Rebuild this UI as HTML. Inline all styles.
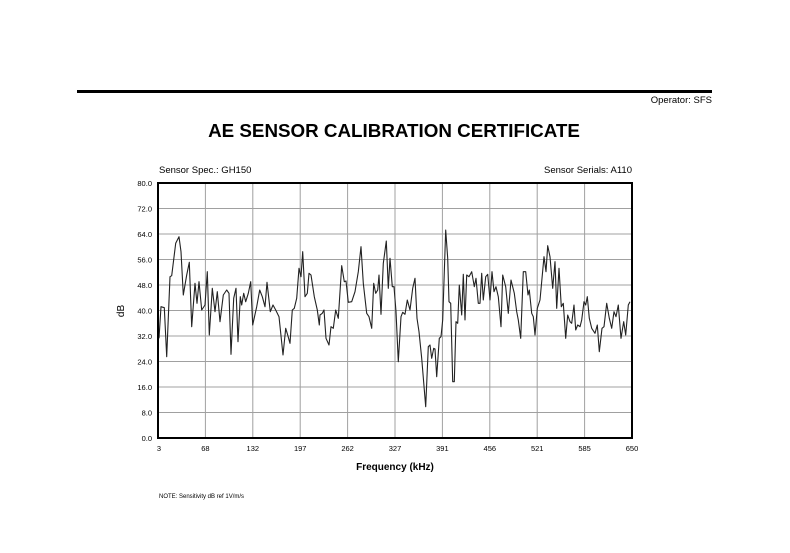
<!DOCTYPE html>
<html><head><meta charset="utf-8"><style>
html,body{margin:0;padding:0;background:#fff;}
body{width:790px;height:548px;overflow:hidden;font-family:"Liberation Sans",Arial,sans-serif;}
</style></head><body>
<svg width="790" height="548" viewBox="0 0 790 548" xmlns="http://www.w3.org/2000/svg" font-family="Liberation Sans, Arial, sans-serif">
<rect x="0" y="0" width="790" height="548" fill="#fff"/>
<rect x="77" y="90" width="635" height="3" fill="#000"/>
<text x="712" y="103" font-size="9.5" text-anchor="end" fill="#000">Operator: SFS</text>
<text x="394" y="137" font-size="18.8" font-weight="bold" text-anchor="middle" fill="#000">AE SENSOR CALIBRATION CERTIFICATE</text>
<text x="159" y="173" font-size="9.5" fill="#000">Sensor Spec.: GH150</text>
<text x="632" y="173" font-size="9.5" text-anchor="end" fill="#000">Sensor Serials: A110</text>
<g stroke="#a0a0a0" stroke-width="1">
<line x1="205.4" y1="183" x2="205.4" y2="438"/>
<line x1="252.8" y1="183" x2="252.8" y2="438"/>
<line x1="300.2" y1="183" x2="300.2" y2="438"/>
<line x1="347.6" y1="183" x2="347.6" y2="438"/>
<line x1="395" y1="183" x2="395" y2="438"/>
<line x1="442.4" y1="183" x2="442.4" y2="438"/>
<line x1="489.8" y1="183" x2="489.8" y2="438"/>
<line x1="537.2" y1="183" x2="537.2" y2="438"/>
<line x1="584.6" y1="183" x2="584.6" y2="438"/>
<line x1="158" y1="208.5" x2="632" y2="208.5"/>
<line x1="158" y1="234" x2="632" y2="234"/>
<line x1="158" y1="259.5" x2="632" y2="259.5"/>
<line x1="158" y1="285" x2="632" y2="285"/>
<line x1="158" y1="310.5" x2="632" y2="310.5"/>
<line x1="158" y1="336" x2="632" y2="336"/>
<line x1="158" y1="361.5" x2="632" y2="361.5"/>
<line x1="158" y1="387" x2="632" y2="387"/>
<line x1="158" y1="412.5" x2="632" y2="412.5"/>
</g>
<polyline fill="none" stroke="#222" stroke-width="1.1" stroke-linejoin="round" points="
159,338.3 161,306.7 164.3,307.7 166.7,356.7 170,276.7 171.7,275.7 175.7,243.3 179,236.7 181,251.7 183.3,295 186.7,275 189.3,262.3 191.7,326.7 195,283.3 197,303.3 199,281.7 201.7,310 205,305 207.3,271.7 209.3,335 212.3,288.3 215,311.7 217.3,291.7 220,321.7 223.3,295 226.7,290 229,293.3 231,354.3 233.7,298.3 236,288.3 238,341.7 240.3,296.7 241.7,305 243.7,293.3 245.7,301.7 248.3,293.3 250.7,281.7 252.7,325 256.7,306.7 259.7,290 262.3,296.7 265,306.7 267,282.3 270.3,311.7 273,305 275.7,310 279,316.7 283,355 285.7,328.3 287.7,335 290,343.3 292.3,310 294.3,308.3 296.7,298.3 299,268.3 301,276.7 302.7,251.7 305,296.7 307.3,293.3 309,273.3 311,275 314.3,296.7 317.3,310 319.3,325
320,315 322.3,313.3 324,310 326,338.3 329,345 331,326.7 333.3,328.3 335.7,310 338.3,318.3 341.7,265.7 344.3,281.7 346,281 348.3,302.3 351.7,301.7 355,291.7 358.3,271.7 361,246.7 363.3,283.3 366.7,313.3 369,316.7 371.7,328.3 373.7,283.3 375.7,293.3 377.7,290 379,275 381,314.3 383.3,263.3 386.3,241 388.3,288.3 390,258.3 392.3,286.7 394,286.7 396,311.7 398.3,361.7 401,316.7 402.7,312.3 405,314.3 407.3,300 410,310 412.7,288.3 415,278.3 417,318.3 419,331.7 421.7,358.3 425.7,406.7 428.3,346.7 430,345 431.7,358.3 433.7,348.3 435,349 436.7,376.7 439.3,338.3 441,336.7 442.7,320 445.7,230 447.7,258.3 449,301.7 450.7,303.3 452.7,381.7 454.3,381.7 456,321.7 457.7,323.3 459.3,285 461.7,315 463.3,274.3 465,320 466.7,275 469,276.7 471.7,271.7 474.3,286.7
476,278.3 478.3,303.3 480,303.3 481.7,273.3 483.3,300 485.7,276.7 487.7,274.3 490,300 492,271.7 494,291.7 496,286.7 498.3,296.7 501,326.7 502.7,275 505.7,286.7 508.3,313.3 511,280 514.3,293.3 516.7,311.7 518.3,320 520.7,338.3 523.3,271.7 525.7,271.7 528,295 529.3,290 531.7,313.3 533.3,316.7 535,335 537.3,308.3 540,300 544,256.7 546,271.7 547.7,245.7 550,256.7 552.7,288.3 555,261.7 556.7,308.3 559,268.3 561.3,306.7 563.3,303.3 565.7,338.3 567.7,315 570,321.7 571.7,323.3 574,305 575.7,330 577.7,325 580,326.7 581.7,320 584,301.7 585.7,305 587.3,296.7 589.3,318.3 591.7,328.3 595,333.3 597.3,325 599.3,351.7 602,328.3 604,326.7 606.7,303.3 609.3,318.3 611.7,328.3 614,311.7 616,316.7 618.3,305 621,338.3 623.7,321.7 625.7,335 628.3,305 630,301.7"/>
<rect x="158" y="183" width="474" height="255" fill="none" stroke="#000" stroke-width="2"/>
<g font-size="7.5" text-anchor="end" fill="#000">
<text x="152" y="186">80.0</text>
<text x="152" y="211.5">72.0</text>
<text x="152" y="237">64.0</text>
<text x="152" y="262.5">56.0</text>
<text x="152" y="288">48.0</text>
<text x="152" y="313.5">40.0</text>
<text x="152" y="339">32.0</text>
<text x="152" y="364.5">24.0</text>
<text x="152" y="390">16.0</text>
<text x="152" y="415.5">8.0</text>
<text x="152" y="441">0.0</text>
</g>
<g font-size="7.5" text-anchor="middle" fill="#000">
<text x="159" y="451">3</text>
<text x="205.4" y="451">68</text>
<text x="252.8" y="451">132</text>
<text x="300.2" y="451">197</text>
<text x="347.6" y="451">262</text>
<text x="395" y="451">327</text>
<text x="442.4" y="451">391</text>
<text x="489.8" y="451">456</text>
<text x="537.2" y="451">521</text>
<text x="584.6" y="451">585</text>
<text x="632" y="451">650</text>
</g>
<text x="395" y="470" font-size="10" font-weight="bold" text-anchor="middle" fill="#000">Frequency (kHz)</text>
<text transform="translate(124,311) rotate(-90)" font-size="10" text-anchor="middle" fill="#000">dB</text>
<text x="159" y="498" font-size="6" fill="#000">NOTE:  Sensitivity dB ref 1V/m/s</text>
</svg>
</body></html>
